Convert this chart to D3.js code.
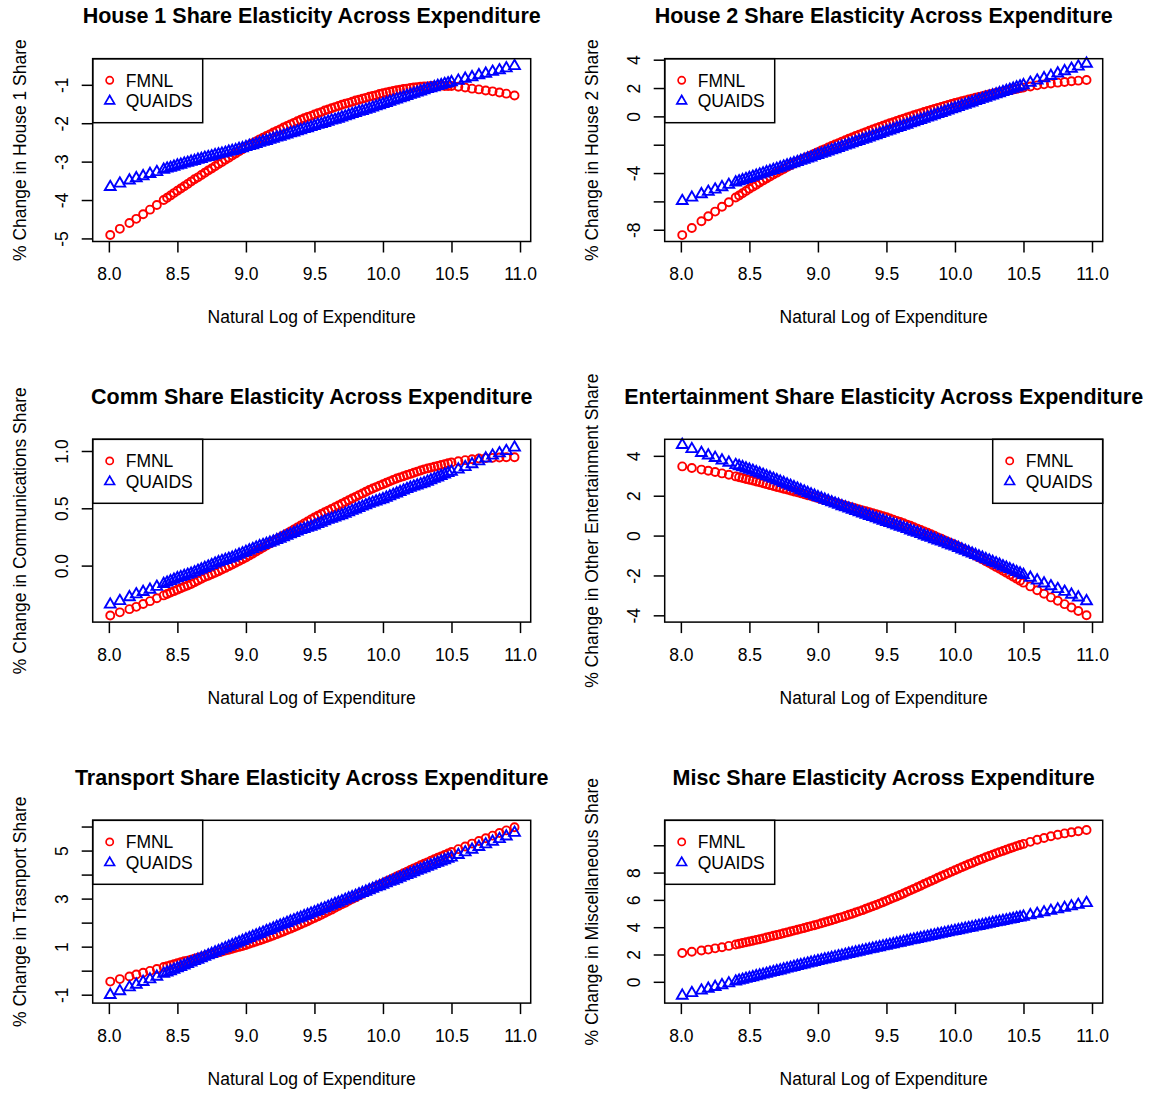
<!DOCTYPE html>
<html>
<head>
<meta charset="utf-8">
<script src="https://cdn.jsdelivr.net/npm/d3@7"></script>
<style>
  body { margin: 0; background: #fff; }
  text { font-family: "Liberation Sans", Arial, Helvetica, sans-serif; }
</style>
</head>
<body>
<div id="chart"></div>
<script>
// natural log of expenditure, shared by all six panels
var lnexp = [
  8.01, 8.08, 8.15, 8.20, 8.25, 8.30, 8.35,
  8.400, 8.425, 8.450, 8.475,  8.500, 8.525, 8.550, 8.575,
  8.600, 8.625, 8.650, 8.675,  8.700, 8.725, 8.750, 8.775,
  8.800, 8.825, 8.850, 8.875,  8.900, 8.925, 8.950, 8.975,
  9.000, 9.025, 9.050, 9.075,  9.100, 9.125, 9.150, 9.175,
  9.200, 9.225, 9.250, 9.275,  9.300, 9.325, 9.350, 9.375,
  9.400, 9.425, 9.450, 9.475,  9.500, 9.525, 9.550, 9.575,
  9.600, 9.625, 9.650, 9.675,  9.700, 9.725, 9.750, 9.775,
  9.800, 9.825, 9.850, 9.875,  9.900, 9.925, 9.950, 9.975,
  10.000, 10.025, 10.050, 10.075,  10.100, 10.125, 10.150, 10.175,
  10.200, 10.225, 10.250, 10.275,  10.300, 10.325, 10.350, 10.375,
  10.400, 10.425, 10.450, 10.475,  10.500,
  10.55, 10.60, 10.65, 10.70, 10.75, 10.80, 10.85, 10.90, 10.96
];

var house1_fmnl = [
  -4.91, -4.75, -4.60, -4.49, -4.37, -4.25, -4.13,
  -4.00, -3.94, -3.88, -3.82,  -3.76, -3.70, -3.64, -3.58,
  -3.52, -3.46, -3.41, -3.35,  -3.29, -3.23, -3.18, -3.12,
  -3.06, -3.01, -2.95, -2.90,  -2.84, -2.79, -2.73, -2.68,
  -2.62, -2.57, -2.52, -2.47,  -2.42, -2.38, -2.33, -2.29,
  -2.24, -2.20, -2.16, -2.11,  -2.07, -2.03, -1.99, -1.95,
  -1.91, -1.87, -1.84, -1.81,  -1.77, -1.74, -1.71, -1.67,
  -1.64, -1.61, -1.58, -1.55,  -1.52, -1.49, -1.47, -1.44,
  -1.41, -1.39, -1.36, -1.34,  -1.31, -1.29, -1.27, -1.24,
  -1.22, -1.20, -1.18, -1.16,  -1.14, -1.13, -1.11, -1.10,
  -1.08, -1.07, -1.06, -1.05,  -1.04, -1.04, -1.03, -1.03,
  -1.02, -1.02, -1.03, -1.03,  -1.03,
  -1.05, -1.07, -1.10, -1.12, -1.15, -1.17, -1.20, -1.23, -1.28
];
var house1_quaids = [
  -3.66, -3.57, -3.49, -3.43, -3.38, -3.32, -3.27,
  -3.21, -3.18, -3.16, -3.13,  -3.10, -3.08, -3.05, -3.03,
  -3.00, -2.98, -2.95, -2.93,  -2.90, -2.88, -2.86, -2.83,
  -2.81, -2.79, -2.77, -2.74,  -2.72, -2.70, -2.67, -2.65,
  -2.62, -2.59, -2.57, -2.54,  -2.51, -2.48, -2.46, -2.43,
  -2.40, -2.37, -2.35, -2.32,  -2.29, -2.26, -2.24, -2.21,
  -2.18, -2.15, -2.13, -2.10,  -2.07, -2.04, -2.02, -1.99,
  -1.96, -1.93, -1.91, -1.88,  -1.85, -1.82, -1.79, -1.76,
  -1.73, -1.70, -1.68, -1.65,  -1.62, -1.59, -1.56, -1.53,
  -1.50, -1.47, -1.44, -1.41,  -1.38, -1.35, -1.32, -1.29,
  -1.26, -1.23, -1.20, -1.17,  -1.14, -1.11, -1.09, -1.06,
  -1.03, -1.01, -0.98, -0.96,  -0.93,
  -0.89, -0.84, -0.80, -0.75, -0.71, -0.66, -0.62, -0.57, -0.51
];

var house2_fmnl = [
  -8.38, -7.88, -7.40, -7.05, -6.72, -6.38, -6.06,
  -5.73, -5.58, -5.42, -5.27,  -5.11, -4.96, -4.82, -4.67,
  -4.52, -4.38, -4.25, -4.11,  -3.97, -3.84, -3.71, -3.58,
  -3.45, -3.33, -3.21, -3.09,  -2.97, -2.86, -2.75, -2.63,
  -2.52, -2.41, -2.31, -2.20,  -2.09, -1.99, -1.89, -1.78,
  -1.68, -1.58, -1.49, -1.39,  -1.29, -1.20, -1.11, -1.01,
  -0.92, -0.83, -0.75, -0.66,  -0.57, -0.49, -0.41, -0.32,
  -0.24, -0.16, -0.08, 0.00,  0.08, 0.16, 0.23, 0.31,
  0.38, 0.45, 0.53, 0.60,  0.67, 0.74, 0.81, 0.87,
  0.94, 1.00, 1.07, 1.13,  1.19, 1.25, 1.31, 1.37,
  1.43, 1.49, 1.54, 1.60,  1.65, 1.70, 1.75, 1.80,
  1.85, 1.90, 1.94, 1.99,  2.03,
  2.11, 2.19, 2.26, 2.32, 2.38, 2.43, 2.48, 2.52, 2.57
];
var house2_quaids = [
  -5.97, -5.73, -5.49, -5.32, -5.16, -4.99, -4.83,
  -4.66, -4.58, -4.50, -4.42,  -4.34, -4.26, -4.18, -4.10,
  -4.02, -3.94, -3.86, -3.78,  -3.70, -3.62, -3.54, -3.46,
  -3.38, -3.30, -3.22, -3.13,  -3.05, -2.97, -2.89, -2.80,
  -2.72, -2.64, -2.56, -2.47,  -2.39, -2.31, -2.23, -2.14,
  -2.06, -1.98, -1.90, -1.81,  -1.73, -1.65, -1.57, -1.48,
  -1.40, -1.32, -1.24, -1.15,  -1.07, -0.99, -0.91, -0.82,
  -0.74, -0.66, -0.58, -0.49,  -0.41, -0.33, -0.25, -0.16,
  -0.08, 0.00, 0.09, 0.17,  0.25, 0.33, 0.42, 0.50,
  0.58, 0.66, 0.75, 0.83,  0.91, 0.99, 1.08, 1.16,
  1.24, 1.32, 1.40, 1.48,  1.56, 1.64, 1.72, 1.80,
  1.88, 1.96, 2.04, 2.12,  2.20,
  2.37, 2.53, 2.70, 2.86, 3.03, 3.19, 3.36, 3.52, 3.72
];

var comm_fmnl = [
  -0.436, -0.408, -0.380, -0.360, -0.335, -0.310, -0.285,
  -0.260, -0.248, -0.235, -0.223,  -0.210, -0.198, -0.185, -0.173,
  -0.160, -0.145, -0.130, -0.115,  -0.100, -0.088, -0.075, -0.063,
  -0.050, -0.035, -0.020, -0.005,  0.010, 0.025, 0.040, 0.055,
  0.070, 0.088, 0.105, 0.123,  0.140, 0.158, 0.175, 0.193,
  0.210, 0.228, 0.245, 0.263,  0.280, 0.298, 0.315, 0.333,
  0.350, 0.368, 0.385, 0.403,  0.420, 0.435, 0.450, 0.465,
  0.480, 0.495, 0.510, 0.525,  0.540, 0.555, 0.570, 0.585,
  0.600, 0.615, 0.630, 0.645,  0.660, 0.673, 0.685, 0.698,
  0.710, 0.723, 0.735, 0.748,  0.760, 0.770, 0.780, 0.790,
  0.800, 0.810, 0.820, 0.830,  0.840, 0.848, 0.855, 0.863,
  0.870, 0.878, 0.885, 0.893,  0.900,
  0.910, 0.920, 0.928, 0.935, 0.938, 0.940, 0.943, 0.945, 0.945
];
var comm_quaids = [
  -0.340, -0.309, -0.275, -0.250, -0.230, -0.210, -0.185,
  -0.160, -0.148, -0.135, -0.123,  -0.110, -0.100, -0.090, -0.080,
  -0.070, -0.058, -0.045, -0.033,  -0.020, -0.008, 0.005, 0.018,
  0.030, 0.040, 0.050, 0.060,  0.070, 0.083, 0.095, 0.108,
  0.120, 0.133, 0.145, 0.158,  0.170, 0.180, 0.190, 0.200,
  0.210, 0.223, 0.235, 0.248,  0.260, 0.273, 0.285, 0.298,
  0.310, 0.320, 0.330, 0.340,  0.350, 0.363, 0.375, 0.388,
  0.400, 0.410, 0.420, 0.430,  0.440, 0.453, 0.465, 0.478,
  0.490, 0.503, 0.515, 0.528,  0.540, 0.550, 0.560, 0.570,
  0.580, 0.593, 0.605, 0.618,  0.630, 0.643, 0.655, 0.668,
  0.680, 0.690, 0.700, 0.710,  0.720, 0.733, 0.745, 0.758,
  0.770, 0.783, 0.795, 0.808,  0.820,
  0.840, 0.860, 0.885, 0.910, 0.935, 0.960, 0.980, 1.000, 1.030
];

var ent_fmnl = [
  3.47, 3.39, 3.31, 3.25, 3.19, 3.12, 3.05,
  2.97, 2.93, 2.89, 2.84,  2.80, 2.76, 2.71, 2.67,
  2.62, 2.58, 2.53, 2.49,  2.44, 2.40, 2.35, 2.31,
  2.26, 2.21, 2.17, 2.12,  2.07, 2.02, 1.98, 1.93,
  1.88, 1.83, 1.79, 1.74,  1.69, 1.64, 1.60, 1.55,
  1.50, 1.45, 1.41, 1.36,  1.31, 1.26, 1.22, 1.17,
  1.12, 1.07, 1.02, 0.97,  0.92, 0.86, 0.80, 0.74,
  0.68, 0.62, 0.55, 0.49,  0.42, 0.35, 0.28, 0.21,
  0.14, 0.07, -0.01, -0.09,  -0.16, -0.24, -0.32, -0.39,
  -0.47, -0.56, -0.65, -0.73,  -0.82, -0.91, -1.01, -1.10,
  -1.19, -1.29, -1.38, -1.48,  -1.57, -1.67, -1.77, -1.86,
  -1.96, -2.06, -2.16, -2.26,  -2.36,
  -2.55, -2.74, -2.92, -3.10, -3.27, -3.44, -3.61, -3.78, -4.00
];
var ent_quaids = [
  4.55, 4.34, 4.15, 4.02, 3.90, 3.77, 3.66,
  3.54, 3.48, 3.43, 3.37,  3.31, 3.25, 3.18, 3.12,
  3.05, 2.98, 2.92, 2.85,  2.78, 2.71, 2.64, 2.57,
  2.50, 2.43, 2.36, 2.28,  2.21, 2.14, 2.07, 2.00,
  1.93, 1.87, 1.80, 1.74,  1.67, 1.61, 1.55, 1.48,
  1.42, 1.36, 1.30, 1.23,  1.17, 1.11, 1.05, 0.99,
  0.93, 0.87, 0.81, 0.75,  0.69, 0.63, 0.57, 0.51,
  0.45, 0.39, 0.33, 0.26,  0.20, 0.14, 0.08, 0.01,
  -0.05, -0.11, -0.18, -0.24,  -0.30, -0.36, -0.43, -0.49,
  -0.55, -0.62, -0.69, -0.76,  -0.83, -0.90, -0.97, -1.04,
  -1.11, -1.18, -1.25, -1.32,  -1.39, -1.46, -1.54, -1.61,
  -1.68, -1.75, -1.83, -1.90,  -1.97,
  -2.11, -2.25, -2.40, -2.54, -2.68, -2.82, -2.96, -3.10, -3.29
];

var trans_fmnl = [
  -0.455, -0.35, -0.24, -0.16, -0.085, -0.01, 0.07,
  0.15, 0.19, 0.23, 0.27,  0.31, 0.35, 0.39, 0.42,
  0.46, 0.50, 0.54, 0.57,  0.61, 0.65, 0.69, 0.72,
  0.76, 0.80, 0.84, 0.87,  0.91, 0.95, 0.99, 1.03,
  1.07, 1.12, 1.17, 1.21,  1.26, 1.31, 1.36, 1.41,
  1.46, 1.52, 1.58, 1.63,  1.69, 1.75, 1.81, 1.87,
  1.93, 2.00, 2.06, 2.13,  2.19, 2.26, 2.33, 2.40,
  2.47, 2.54, 2.62, 2.69,  2.76, 2.83, 2.91, 2.98,
  3.05, 3.13, 3.20, 3.28,  3.35, 3.42, 3.50, 3.57,
  3.64, 3.71, 3.78, 3.85,  3.92, 3.99, 4.06, 4.12,
  4.19, 4.26, 4.32, 4.39,  4.45, 4.51, 4.58, 4.64,
  4.70, 4.76, 4.82, 4.88,  4.94,
  5.06, 5.17, 5.29, 5.40, 5.51, 5.62, 5.73, 5.84, 5.97
];
var trans_quaids = [
  -1.01, -0.85, -0.69, -0.58, -0.47, -0.36, -0.25,
  -0.13, -0.07, -0.02, 0.04,  0.10, 0.16, 0.22, 0.28,
  0.34, 0.40, 0.46, 0.52,  0.58, 0.64, 0.70, 0.76,
  0.82, 0.88, 0.94, 1.00,  1.06, 1.12, 1.18, 1.24,
  1.30, 1.36, 1.42, 1.47,  1.53, 1.59, 1.65, 1.70,
  1.76, 1.82, 1.88, 1.93,  1.99, 2.05, 2.10, 2.16,
  2.21, 2.27, 2.32, 2.38,  2.43, 2.49, 2.55, 2.60,
  2.66, 2.72, 2.78, 2.83,  2.89, 2.95, 3.01, 3.06,
  3.12, 3.18, 3.24, 3.29,  3.35, 3.41, 3.47, 3.52,
  3.58, 3.64, 3.70, 3.75,  3.81, 3.87, 3.93, 3.98,
  4.04, 4.10, 4.16, 4.21,  4.27, 4.33, 4.38, 4.44,
  4.49, 4.55, 4.60, 4.66,  4.71,
  4.82, 4.93, 5.04, 5.15, 5.26, 5.37, 5.48, 5.59, 5.74
];

var misc_fmnl = [
  2.11, 2.20, 2.29, 2.36, 2.45, 2.53, 2.63,
  2.73, 2.79, 2.84, 2.90,  2.95, 3.01, 3.07, 3.12,
  3.18, 3.24, 3.31, 3.37,  3.43, 3.49, 3.56, 3.62,
  3.68, 3.75, 3.81, 3.88,  3.94, 4.01, 4.08, 4.14,
  4.21, 4.29, 4.36, 4.44,  4.51, 4.59, 4.67, 4.74,
  4.82, 4.91, 4.99, 5.08,  5.16, 5.25, 5.35, 5.44,
  5.53, 5.63, 5.73, 5.83,  5.93, 6.04, 6.15, 6.25,
  6.36, 6.47, 6.59, 6.70,  6.81, 6.93, 7.04, 7.16,
  7.27, 7.39, 7.50, 7.62,  7.73, 7.84, 7.96, 8.07,
  8.18, 8.29, 8.40, 8.50,  8.61, 8.71, 8.82, 8.92,
  9.02, 9.12, 9.22, 9.31,  9.41, 9.50, 9.59, 9.68,
  9.77, 9.85, 9.94, 10.02,  10.10,
  10.25, 10.40, 10.53, 10.66, 10.77, 10.87, 10.95, 11.03, 11.12
];
var misc_quaids = [
  -1.01, -0.82, -0.64, -0.50, -0.37, -0.24, -0.11,
  0.02, 0.09, 0.15, 0.22,  0.28, 0.34, 0.41, 0.47,
  0.53, 0.59, 0.66, 0.72,  0.78, 0.84, 0.91, 0.97,
  1.03, 1.09, 1.16, 1.22,  1.28, 1.34, 1.40, 1.46,
  1.52, 1.58, 1.64, 1.69,  1.75, 1.81, 1.87, 1.92,
  1.98, 2.04, 2.10, 2.15,  2.21, 2.27, 2.32, 2.38,
  2.43, 2.49, 2.54, 2.60,  2.65, 2.71, 2.76, 2.82,
  2.87, 2.93, 2.98, 3.04,  3.09, 3.14, 3.20, 3.25,
  3.30, 3.36, 3.41, 3.47,  3.52, 3.57, 3.63, 3.68,
  3.73, 3.78, 3.84, 3.89,  3.94, 3.99, 4.05, 4.10,
  4.15, 4.20, 4.26, 4.31,  4.36, 4.41, 4.46, 4.51,
  4.56, 4.61, 4.67, 4.72,  4.77,
  4.88, 4.98, 5.09, 5.20, 5.31, 5.42, 5.53, 5.64, 5.77
];

// axis limits and ticks
var x_lim = [7.882, 11.078];
var x_ticks = [8.0, 8.5, 9.0, 9.5, 10.0, 10.5, 11.0];
var x_labels = ["8.0", "8.5", "9.0", "9.5", "10.0", "10.5", "11.0"];

var house1_ylim = [-5.08, -0.32];
var house1_ticks = [-5, -4, -3, -2, -1];
var house1_labels = ["-5", "-4", "-3", "-2", "-1"];
var house2_ylim = [-8.83, 4.07];
var house2_ticks = [-8, -6, -4, -2, 0, 2, 4];
var house2_labels = ["-8", "", "-4", "", "0", "2", "4"];
var comm_ylim = [-0.493, 1.102];
var comm_ticks = [0, 0.5, 1.0];
var comm_labels = ["0.0", "0.5", "1.0"];
var ent_ylim = [-4.34, 4.83];
var ent_ticks = [-4, -2, 0, 2, 4];
var ent_labels = ["-4", "-2", "0", "2", "4"];
var trans_ylim = [-1.35, 6.26];
var trans_ticks = [-1, 0, 1, 2, 3, 4, 5, 6];
var trans_labels = ["-1", "", "1", "", "3", "", "5", ""];
var misc_ylim = [-1.56, 11.83];
var misc_ticks = [0, 2, 4, 6, 8, 10];
var misc_labels = ["0", "2", "4", "6", "8", ""];

var series_names = ["FMNL", "QUAIDS"];

var panels = [
  {title: "House 1 Share Elasticity Across Expenditure", ylab: "% Change in House 1 Share",
   ylim: house1_ylim, ticks: house1_ticks, labels: house1_labels, fmnl: house1_fmnl, quaids: house1_quaids, legend: "left"},
  {title: "House 2 Share Elasticity Across Expenditure", ylab: "% Change in House 2 Share",
   ylim: house2_ylim, ticks: house2_ticks, labels: house2_labels, fmnl: house2_fmnl, quaids: house2_quaids, legend: "left"},
  {title: "Comm Share Elasticity Across Expenditure", ylab: "% Change in Communications Share",
   ylim: comm_ylim, ticks: comm_ticks, labels: comm_labels, fmnl: comm_fmnl, quaids: comm_quaids, legend: "left"},
  {title: "Entertainment Share Elasticity Across Expenditure", ylab: "% Change in Other Entertainment Share",
   ylim: ent_ylim, ticks: ent_ticks, labels: ent_labels, fmnl: ent_fmnl, quaids: ent_quaids, legend: "right"},
  {title: "Transport Share Elasticity Across Expenditure", ylab: "% Change in Trasnport Share",
   ylim: trans_ylim, ticks: trans_ticks, labels: trans_labels, fmnl: trans_fmnl, quaids: trans_quaids, legend: "left"},
  {title: "Misc Share Elasticity Across Expenditure", ylab: "% Change in Miscellaneous Share",
   ylim: misc_ylim, ticks: misc_ticks, labels: misc_labels, fmnl: misc_fmnl, quaids: misc_quaids, legend: "left"}
];

// layout
var W = 1159, H = 1093;
var colLeft = [92.7, 664.7],
    rowTop = [58.7, 439.3, 820.3],
    boxW = 438, boxH = 182.8;
var red = "#ff0000", blue = "#0000ff";
var lw = 1.5, mlw = 1.9, rad = 4.0;
var triPath = "M0,-6.2L5.4,3.1L-5.4,3.1Z";

var svg = d3.select("#chart").append("svg")
    .attr("width", W)
    .attr("height", H);

svg.append("rect").attr("width", W).attr("height", H).attr("fill", "#fff");

panels.forEach(function(p, i) {
  var g = svg.append("g")
      .attr("transform", "translate(" + colLeft[i % 2] + "," + rowTop[Math.floor(i / 2)] + ")");

  var xScale = d3.scaleLinear().domain(x_lim).range([0, boxW]);
  var yScale = d3.scaleLinear().domain(p.ylim).range([boxH, 0]);

  var pts = lnexp.map(function(x, k) { return {x: x, f: p.fmnl[k], q: p.quaids[k]}; });

  // FMNL circles first, QUAIDS triangles on top
  g.selectAll(".fm")
    .data(pts)
    .enter()
    .append("circle")
      .attr("cx", function(d) { return xScale(d.x); })
      .attr("cy", function(d) { return yScale(d.f); })
      .attr("r", rad)
      .attr("fill", "none")
      .attr("stroke", red)
      .attr("stroke-width", mlw);

  g.selectAll(".qu")
    .data(pts)
    .enter()
    .append("path")
      .attr("d", triPath)
      .attr("transform", function(d) { return "translate(" + xScale(d.x) + "," + yScale(d.q) + ")"; })
      .attr("fill", "none")
      .attr("stroke", blue)
      .attr("stroke-width", mlw)
      .attr("stroke-linejoin", "miter");

  // x axis
  var xAxis = d3.axisBottom(xScale)
      .tickValues(x_ticks)
      .tickSize(11)
      .tickSizeOuter(0)
      .tickPadding(15)
      .tickFormat(function(d, k) { return x_labels[k]; });
  var gx = g.append("g").attr("transform", "translate(0," + boxH + ")").call(xAxis);
  gx.select(".domain").remove();
  gx.selectAll("line").attr("stroke", "#000").attr("stroke-width", lw);
  gx.selectAll("text").attr("font-size", "17.5px").attr("fill", "#000")
    .attr("font-family", "'Liberation Sans', Arial, sans-serif");

  // y axis, labels parallel to the axis
  var yAxis = d3.axisLeft(yScale)
      .tickValues(p.ticks)
      .tickSize(11)
      .tickSizeOuter(0)
      .tickFormat(function(d, k) { return p.labels[k]; });
  var gy = g.append("g").call(yAxis);
  gy.select(".domain").remove();
  gy.selectAll("line").attr("stroke", "#000").attr("stroke-width", lw);
  gy.selectAll("text")
    .attr("x", null).attr("dy", null)
    .attr("transform", "translate(-24.5,0) rotate(-90)")
    .attr("text-anchor", "middle")
    .attr("font-size", "17.5px").attr("fill", "#000")
    .attr("font-family", "'Liberation Sans', Arial, sans-serif");

  // legend
  var lgW = 110, lgH = 64;
  var lg = g.append("g")
      .attr("transform", "translate(" + (p.legend == "right" ? boxW - lgW : 0) + ",0)");
  lg.append("rect")
    .attr("width", lgW).attr("height", lgH)
    .attr("fill", "#fff").attr("stroke", "#000").attr("stroke-width", lw);
  lg.append("circle")
    .attr("cx", 17).attr("cy", 21.6).attr("r", 3.6)
    .attr("fill", "none").attr("stroke", red).attr("stroke-width", 1.7);
  lg.append("path")
    .attr("d", "M0,-5.6L4.85,2.8L-4.85,2.8Z").attr("transform", "translate(17,42.4)")
    .attr("fill", "none").attr("stroke", blue).attr("stroke-width", 1.7);
  lg.selectAll(".lt")
    .data(series_names)
    .enter()
    .append("text")
      .attr("x", 33)
      .attr("y", function(d, k) { return 21.6 + k * 20.8 + 6.3; })
      .attr("font-size", "17.5px")
      .text(function(d) { return d; });

  // plot box
  g.append("rect")
    .attr("width", boxW).attr("height", boxH)
    .attr("fill", "none").attr("stroke", "#000").attr("stroke-width", lw);

  // titles
  g.append("text")
    .attr("x", boxW / 2).attr("y", -35.7)
    .attr("text-anchor", "middle")
    .attr("font-size", "21.5px").attr("font-weight", "bold")
    .text(p.title);

  g.append("text")
    .attr("x", boxW / 2).attr("y", boxH + 82)
    .attr("text-anchor", "middle")
    .attr("font-size", "17.5px")
    .text("Natural Log of Expenditure");

  g.append("text")
    .attr("transform", "translate(-67," + (boxH / 2) + ") rotate(-90)")
    .attr("text-anchor", "middle")
    .attr("font-size", "17.5px")
    .text(p.ylab);
});
</script>
</body>
</html>
